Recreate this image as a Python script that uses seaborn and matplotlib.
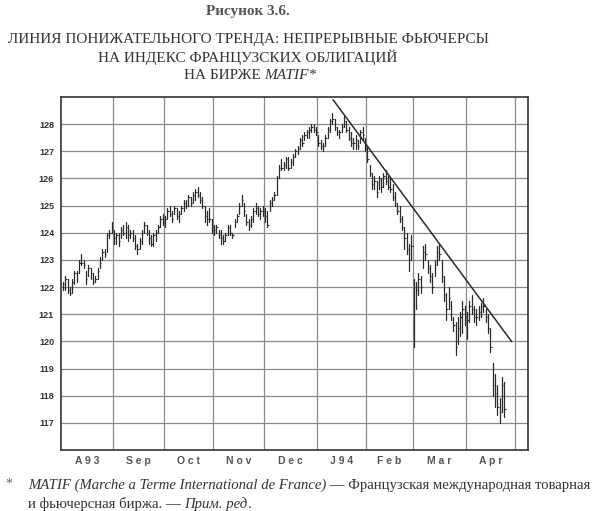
import numpy as np
import pandas as pd
import matplotlib
matplotlib.use('Agg')
import matplotlib.pyplot as plt
import seaborn as sns

# дневные бары (макс / мин / закрытие), август 1993 - апрель 1994
highs = [
    122.2, 122.4, 122.3, 122.0, 122.3, 122.6, 122.6, 123.0, 123.2, 123.0, 122.6, 122.8, 122.7, 122.5, 122.4, 122.7, 123.1, 123.4, 123.4, 124.0, 124.1, 124.4,
    124.1, 124.0, 124.0, 124.2, 124.3, 124.4, 124.3, 124.1, 124.1, 123.9, 123.6, 123.8, 124.1, 124.4, 124.3, 124.1, 123.9, 124.0, 124.1, 124.3, 124.6, 124.7,
    124.6, 124.9, 125.0, 124.8, 125.0, 124.9, 124.8, 125.0, 125.2, 125.2, 125.4, 125.3, 125.5, 125.6, 125.7, 125.5, 125.3, 125.0, 124.8, 124.9, 124.5,
    124.3, 124.3, 124.1, 124.1, 123.9, 124.0, 124.3, 124.3, 124.0, 124.5, 124.7, 125.1, 125.4, 125.1, 124.7, 124.5, 124.6, 124.9, 125.1, 125.0, 124.9, 125.0,
    124.9, 124.8, 125.2, 125.3, 125.5, 126.1, 126.5, 126.7, 126.6, 126.8, 126.8, 126.7, 126.9, 127.1, 127.2, 127.5, 127.6, 127.7, 127.8, 127.9, 128.0, 128.0, 127.9,
    127.6, 127.4, 127.3, 127.6, 127.9, 128.2, 128.4, 128.2, 127.9, 127.8, 128.0, 128.3, 128.1, 127.9, 127.7, 127.5, 127.6, 127.4, 127.8, 127.9, 127.5,
    127.2, 126.5, 126.2, 126.1, 125.9, 126.1, 126.0, 126.2, 126.3, 126.1, 126.0, 125.8, 125.5, 125.1, 125.0, 124.6, 124.2, 124.0, 123.6, 123.9,
    122.3, 122.2, 122.5, 122.4, 123.5, 123.6, 123.0, 122.8, 122.5, 123.0, 123.5, 123.6, 123.0, 122.4, 121.8, 122.0, 121.5, 120.9, 120.7, 120.9, 121.1, 121.5, 121.3,
    121.1, 121.5, 121.7, 121.3, 121.2, 121.3, 121.4, 121.6, 121.2, 121.0, 120.5, 119.2, 118.8, 118.4, 117.9, 118.7, 118.5,
]
lows = [
    121.9, 121.9, 121.8, 121.7, 121.8, 122.1, 122.2, 122.5, 122.8, 122.7, 122.1, 122.4, 122.3, 122.1, 122.2, 122.3, 122.7, 123.0, 123.1, 123.3, 123.8, 124.0,
    123.6, 123.6, 123.5, 123.8, 123.9, 123.8, 123.7, 123.8, 123.7, 123.4, 123.2, 123.4, 123.6, 124.0, 123.9, 123.6, 123.5, 123.5, 123.7, 124.0, 124.2, 124.3,
    124.2, 124.5, 124.6, 124.4, 124.7, 124.5, 124.4, 124.7, 124.8, 124.9, 125.0, 125.0, 125.1, 125.2, 125.3, 125.1, 124.9, 124.4, 124.3, 124.4, 124.0,
    123.9, 124.0, 123.8, 123.6, 123.6, 123.7, 123.9, 123.9, 123.8, 124.2, 124.4, 124.7, 125.0, 124.6, 124.3, 124.1, 124.2, 124.4, 124.7, 124.6, 124.5, 124.6,
    124.4, 124.2, 124.8, 125.0, 125.2, 125.4, 126.0, 126.3, 126.3, 126.4, 126.3, 126.4, 126.5, 126.8, 126.9, 127.1, 127.2, 127.4, 127.5, 127.5, 127.7, 127.7, 127.6,
    127.2, 127.1, 127.0, 127.2, 127.5, 127.7, 128.0, 127.8, 127.6, 127.5, 127.7, 127.9, 127.7, 127.4, 127.2, 127.1, 127.1, 127.1, 127.3, 127.4, 127.0,
    126.6, 126.1, 125.6, 125.6, 125.3, 125.6, 125.5, 125.7, 125.8, 125.6, 125.5, 125.2, 125.0, 124.7, 124.4, 124.1, 123.4, 123.2, 122.6, 123.0,
    119.8, 121.2, 121.7, 121.8, 122.7, 123.0, 122.5, 122.2, 121.8, 122.4, 122.8, 123.0, 122.2, 121.5, 120.8, 121.2, 120.8, 120.4, 119.5, 119.9, 120.2, 120.3, 120.6,
    120.1, 120.7, 121.0, 120.7, 120.6, 120.8, 120.9, 121.1, 120.7, 120.3, 119.6, 118.0, 117.6, 117.3, 117.0, 117.4, 117.2,
]
closes = [
    122.1, 122.3, 121.9, 121.8, 122.2, 122.5, 122.5, 122.9, 122.9, 122.8, 122.3, 122.7, 122.5, 122.2, 122.3, 122.6, 122.9, 123.3, 123.2, 123.9, 124.0, 124.2,
    123.8, 123.9, 123.7, 124.1, 124.0, 124.2, 123.9, 124.0, 123.8, 123.5, 123.4, 123.7, 124.0, 124.3, 124.0, 123.8, 123.6, 123.9, 124.0, 124.2, 124.5, 124.4,
    124.5, 124.8, 124.7, 124.5, 124.9, 124.6, 124.7, 124.9, 125.1, 125.0, 125.3, 125.1, 125.4, 125.5, 125.4, 125.2, 125.0, 124.6, 124.5, 124.5, 124.2,
    124.1, 124.2, 123.9, 123.8, 123.7, 123.9, 124.2, 124.0, 123.9, 124.4, 124.6, 125.0, 125.2, 124.8, 124.4, 124.3, 124.5, 124.8, 124.9, 124.7, 124.8, 124.8,
    124.6, 124.3, 125.1, 125.2, 125.4, 126.0, 126.4, 126.4, 126.5, 126.7, 126.4, 126.6, 126.8, 127.0, 127.1, 127.4, 127.3, 127.6, 127.7, 127.8, 127.9, 127.8, 127.7,
    127.3, 127.2, 127.2, 127.5, 127.8, 128.1, 128.2, 127.9, 127.7, 127.7, 127.9, 128.1, 127.8, 127.5, 127.3, 127.3, 127.4, 127.2, 127.7, 127.6, 127.1,
    126.7, 126.2, 125.8, 125.9, 125.5, 126.0, 125.7, 126.1, 125.9, 125.7, 125.6, 125.3, 125.1, 124.8, 124.5, 124.2, 123.8, 123.4, 123.0, 123.5,
    121.0, 121.9, 122.3, 122.0, 123.3, 123.2, 122.7, 122.4, 122.0, 122.8, 123.3, 123.2, 122.4, 121.7, 121.2, 121.6, 121.0, 120.6, 119.8, 120.5, 120.9, 121.2, 120.9,
    120.8, 121.3, 121.2, 120.9, 120.9, 121.1, 121.3, 121.3, 120.9, 120.5, 119.8, 118.4, 118.1, 117.6, 117.4, 118.4, 117.5,
]
month_labels = ['A93', 'Sep', 'Oct', 'Nov', 'Dec', 'J94', 'Feb', 'Mar', 'Apr']
y_ticks = [117, 118, 119, 120, 121, 122, 123, 124, 125, 126, 127, 128]

# линия тренда (номер торгового дня, цена)
trend_days = [116.3, 193.1]
trend_vals = [128.9, 120.0]

# торговые дни
days = pd.bdate_range('1993-08-02', '1994-05-31')
n = len(highs)
idx = np.arange(n)
starts = [i for i in range(len(days)) if i == 0 or days[i].month != days[i - 1].month]
bounds = [s - 0.5 for s in starts]

df = pd.DataFrame({
    'day': np.repeat(idx, 2),
    'price': np.column_stack([highs, lows]).ravel(),
})

sns.set_theme(style='white')
plt.rcParams['font.family'] = ['Liberation Sans', 'DejaVu Sans']

fig = plt.figure(figsize=(6.0, 5.11), dpi=100)
ax = fig.add_axes([61 / 600, 61 / 511, 467 / 600, 353 / 511])

grid_c = '#8a8a8a'
for b in bounds[1:]:
    ax.axvline(b, color=grid_c, lw=0.9, zorder=1)
for v in y_ticks:
    ax.axhline(v, color=grid_c, lw=0.9, zorder=1)

sns.lineplot(data=df, x='day', y='price', units='day', estimator=None,
             color='#2b2b2b', linewidth=0.9, sort=False, ax=ax, zorder=3)
ax.hlines(closes, idx, idx + 0.6, color='#2b2b2b', lw=0.8, zorder=3)

ax.plot(trend_days, trend_vals, color='#2b2b2b', lw=1.1, zorder=4)

ax.set_xlim(-0.8, 200.2)
ax.set_ylim(116, 129)
ax.set_xlabel('')
ax.set_ylabel('')

ax.set_yticks(y_ticks)
ax.set_yticklabels([str(v) for v in y_ticks], fontsize=6.5, fontweight='bold', color='#333333')
ax.tick_params(axis='y', length=0, pad=5)

centers = [(bounds[i] + bounds[i + 1]) / 2 for i in range(len(month_labels))]
ax.set_xticks(centers)
ax.set_xticklabels([' '.join(m) for m in month_labels], fontsize=7.5, fontweight='bold', color='#555555')
ax.tick_params(axis='x', length=0, pad=4)

# недельные засечки и засечки месяцев на нижней оси
fridays = [i - 0.5 for i in range(len(days)) if days[i].weekday() == 4 and i < 200]
ax.set_xticks(fridays + bounds[1:], minor=True)
ax.tick_params(axis='x', which='minor', direction='inout', length=5, width=0.8, color='#444444')

for s in ax.spines.values():
    s.set_color('#333333')
    s.set_linewidth(1.2)

serif = ['Liberation Serif', 'DejaVu Serif']
renderer = fig.canvas.get_renderer()


def run_text(x_px, y_px, parts, size, color='#333333'):
    # пишет куски текста подряд, каждый следующий начинается там, где кончился предыдущий
    x = x_px
    for txt, st in parts:
        t = fig.text(x / 600, 1 - y_px / 511, txt, ha='left', va='center', fontsize=size,
                     style=st, color=color, family=serif)
        x += t.get_window_extent(renderer).width


fig.text(248 / 600, 1 - 12 / 511, 'Рисунок 3.6.', ha='center', va='center',
         fontsize=11, fontweight='bold', color='#555555', family=serif)
title_lines = ['ЛИНИЯ ПОНИЖАТЕЛЬНОГО ТРЕНДА: НЕПРЕРЫВНЫЕ ФЬЮЧЕРСЫ',
               'НА ИНДЕКС ФРАНЦУЗСКИХ ОБЛИГАЦИЙ']
fig.text(248 / 600, 1 - 39 / 511, title_lines[0], ha='center', va='center',
         fontsize=11, color='#333333', family=serif)
fig.text(248 / 600, 1 - 57 / 511, title_lines[1], ha='center', va='center',
         fontsize=11, color='#333333', family=serif)
fig.text(261 / 600, 1 - 75 / 511, 'НА БИРЖЕ', ha='right', va='center',
         fontsize=11, color='#333333', family=serif)
fig.text(264 / 600, 1 - 75 / 511, 'MATIF*', ha='left', va='center',
         fontsize=11, style='italic', color='#333333', family=serif)

fig.text(5 / 600, 1 - 484 / 511, '*', ha='left', va='center', fontsize=10, color='#666666', family=serif)
run_text(28, 485, [('MATIF (Marche a Terme International de France)', 'italic'),
                   (' — Французская международная товарная', 'normal')], 10.6)
run_text(28, 504, [('и фьючерсная биржа. — ', 'normal'), ('Прим. ред', 'italic'), ('.', 'normal')], 10.6)

fig.savefig('out.png', dpi=100)
